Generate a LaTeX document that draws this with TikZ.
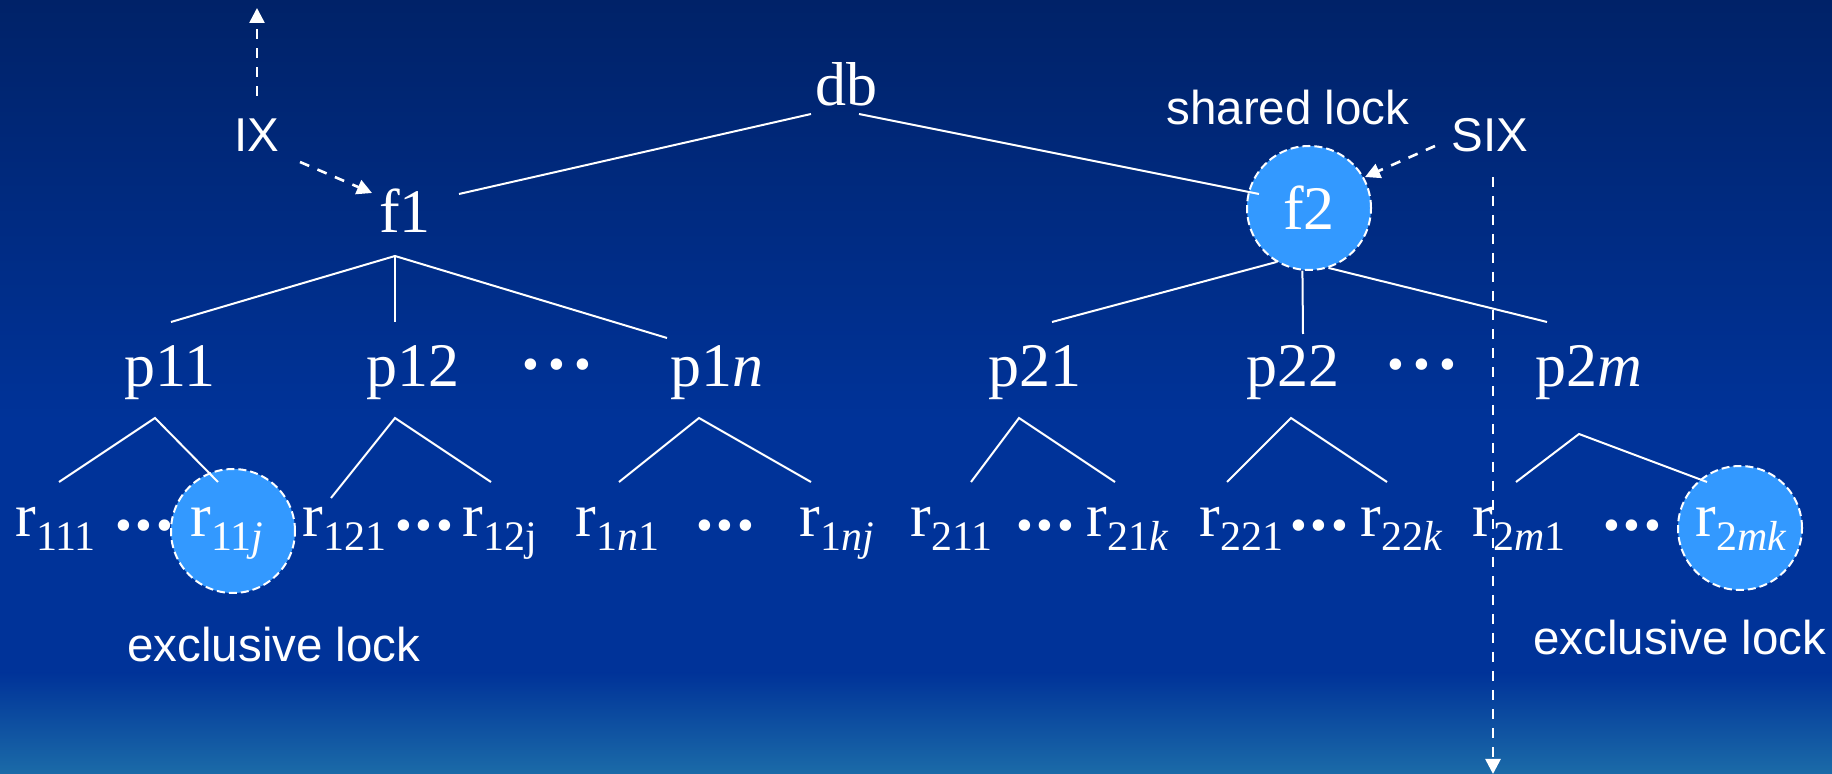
\documentclass[tikz,border=0pt]{standalone}
\usepackage{fontspec}
\setmainfont{Liberation Serif}
\setsansfont{Liberation Sans}
\usetikzlibrary{arrows.meta}
\definecolor{bgtop}{RGB}{0,34,104}
\definecolor{bgmid}{RGB}{0,51,153}
\definecolor{bgbot}{RGB}{27,107,168}
\definecolor{lockblue}{RGB}{51,153,255}
\newcommand\sbs[1]{\raisebox{-7pt}{\fontsize{21}{21}\selectfont #1}}
\newcommand\dotsA{\raisebox{-2.5pt}{\fontsize{24}{24}\selectfont\textbullet\hspace{1.85pt}\textbullet\hspace{1.85pt}\textbullet}}
\newcommand\dotsB{\raisebox{3pt}{\fontsize{24}{24}\selectfont\textbullet\hspace{4.6pt}\textbullet\hspace{4.6pt}\textbullet}}
\tikzset{
  serif/.style={font=\fontsize{31}{31}\selectfont, text=white, inner sep=0pt, anchor=base},
  leaf/.style={font=\fontsize{31}{31}\selectfont, text=white, inner sep=0pt, anchor=base west},
  sans/.style={font=\sffamily\fontsize{23.75}{24}\selectfont, text=white, inner sep=0pt, anchor=base},
  lock/.style={circle, fill=lockblue, draw=white, line width=1pt, dash pattern=on 4pt off 2pt, minimum size=62pt, inner sep=0pt, font=\fontsize{31}{31}\selectfont, text=white},
  edge/.style={draw=white, line width=1pt},
  darr/.style={draw=white, line width=1.3pt, dash pattern=on 5pt off 4.5pt, -{Triangle[length=7.5pt,width=7.5pt]}},
}
\begin{document}
\begin{tikzpicture}[x=0.5pt,y=-0.5pt]
\useasboundingbox (0,0) rectangle (1832,774);
% background
\shade[top color=bgtop,bottom color=bgmid] (0,0) rectangle (1832,421);
\fill[bgmid] (0,420) rectangle (1832,675);
\shade[top color=bgmid,bottom color=bgbot] (0,673) rectangle (1832,774);

% lock circles
\node[lock] (f2) at (1309,208) {f2};
\node[lock] (r11jc) at (233,531) {};
\node[lock] (r2mkc) at (1740,528) {};

% top level
\node[serif] (db) at (846,106) {db};
\node[serif] (f1) at (405,233) {f1};

% level 2
\node[serif] (p11) at (170,387) {p11};
\node[serif] (p12) at (413,387) {p12};
\node[serif] (d1) at (557,387) {\dotsB};
\node[serif] (p1n) at (717,387) {p1\textit{n}};
\node[serif] (p21) at (1035,387) {p21};
\node[serif] (p22) at (1293,387) {p22};
\node[serif] (d2) at (1422,387) {\dotsB};
\node[serif] (p2m) at (1589,387) {p2\textit{m}};

% level 3
\node[leaf] (r111) at (15,537) {r\sbs{111}};
\node[leaf] (e1) at (115,537) {\dotsA};
\node[leaf] (r11j) at (190,537) {r\sbs{11\textit{j}}};
\node[leaf] (r121) at (302,537) {r\sbs{121}};
\node[leaf] (e2) at (395,537) {\dotsA};
\node[leaf] (r12j) at (462,537) {r\sbs{12j}};
\node[leaf] (r1n1) at (575,537) {r\sbs{1\textit{n}1}};
\node[leaf] (e3) at (696,537) {\dotsA};
\node[leaf] (r1nj) at (799,537) {r\sbs{1\textit{nj}}};
\node[leaf] (r211) at (910,537) {r\sbs{211}};
\node[leaf] (e4) at (1016,537) {\dotsA};
\node[leaf] (r21k) at (1086,537) {r\sbs{21\textit{k}}};
\node[leaf] (r221) at (1199,537) {r\sbs{221}};
\node[leaf] (e5) at (1290,537) {\dotsA};
\node[leaf] (r22k) at (1360,537) {r\sbs{22\textit{k}}};
\node[leaf] (r2m1) at (1472,537) {r\sbs{2\textit{m}1}};
\node[leaf] (e6) at (1603,537) {\dotsA};
\node[leaf] (r2mk) at (1695,537) {r\sbs{2\textit{mk}}};

% sans labels
\node[sans] (IX) at (257,152) {IX};
\node[sans] (shared) at (1288,125) {shared lock};
\node[sans] (SIX) at (1490,152) {SIX};
\node[sans] (excl1) at (274,662) {exclusive lock};
\node[sans] (excl2) at (1680,655) {exclusive lock};

% connector end points
\coordinate (db-l) at (811,114);
\coordinate (db-r) at (859,114);
\coordinate (f1-t) at (459,194);
\coordinate (f2-t) at (1259,194);
\coordinate (f1-b) at (395,256);
\coordinate (p11-t) at (171,322);
\coordinate (p12-t) at (395,322);
\coordinate (p1n-t) at (667,338);
\coordinate (p21-t) at (1052,322);
\coordinate (p22-t) at (1303,334);
\coordinate (p2m-t) at (1547,322);
\coordinate (p11-a) at (155,418);
\coordinate (r111-t) at (59,482);
\coordinate (r11j-t) at (218,482);
\coordinate (p12-a) at (395,418);
\coordinate (r121-t) at (331,498);
\coordinate (r12j-t) at (491,482);
\coordinate (p1n-a) at (699,418);
\coordinate (r1n1-t) at (619,482);
\coordinate (r1nj-t) at (811,482);
\coordinate (p21-a) at (1019,418);
\coordinate (r211-t) at (971,482);
\coordinate (r21k-t) at (1115,482);
\coordinate (p22-a) at (1291,418);
\coordinate (r221-t) at (1227,482);
\coordinate (r22k-t) at (1387,482);
\coordinate (p2m-a) at (1579,434);
\coordinate (r2m1-t) at (1516,482);
\coordinate (r2mk-t) at (1707,482);
\coordinate (ix-s1) at (257,96);
\coordinate (ix-e1) at (257,8);
\coordinate (ix-s2) at (300,162);
\coordinate (f1-in) at (372,193);
\coordinate (six-s1) at (1435,146);
\coordinate (f2-in) at (1365,177);
\coordinate (six-s2) at (1493,177);
\coordinate (six-e2) at (1493,774);

% tree edges
\draw[edge] (f1-t) -- (db-l);
\draw[edge] (db-r) -- (f2-t);
\draw[edge] (p11-t) -- (f1-b) -- (p1n-t);
\draw[edge] (f1-b) -- (p12-t);
\draw[edge] (f2.-121) -- (p21-t);
\draw[edge] (f2.-96) -- (p22-t);
\draw[edge] (f2.-72) -- (p2m-t);
\draw[edge] (r111-t) -- (p11-a) -- (r11j-t);
\draw[edge] (r121-t) -- (p12-a) -- (r12j-t);
\draw[edge] (r1n1-t) -- (p1n-a) -- (r1nj-t);
\draw[edge] (r211-t) -- (p21-a) -- (r21k-t);
\draw[edge] (r221-t) -- (p22-a) -- (r22k-t);
\draw[edge] (r2m1-t) -- (p2m-a) -- (r2mk-t);

% dashed arrows
\draw[darr] (ix-s1) -- (ix-e1);
\draw[darr] (ix-s2) -- (f1-in);
\draw[darr] (six-s1) -- (f2-in);
\draw[darr] (six-s2) -- (six-e2);
\end{tikzpicture}
\end{document}
